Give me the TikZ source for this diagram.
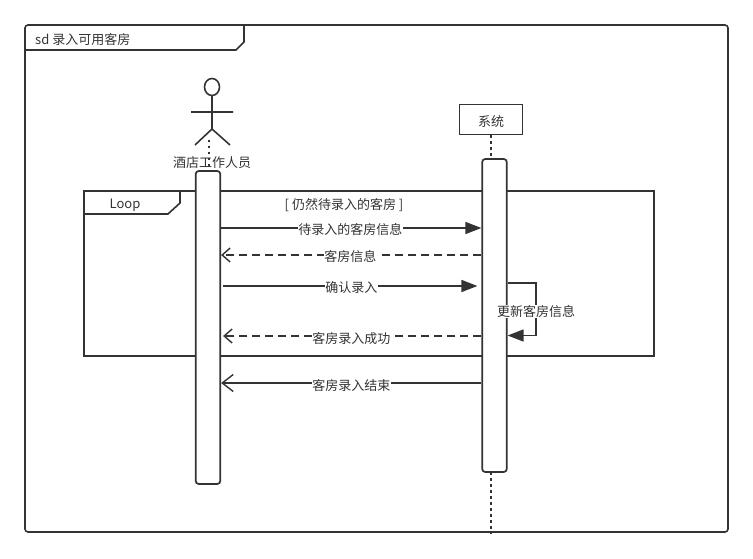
\documentclass[tikz,border=0pt]{standalone}
\usepackage{fontspec}
\setmainfont{Noto Sans CJK SC}
\usetikzlibrary{arrows.meta,calc}
\definecolor{ink}{HTML}{333333}
\tikzset{
  line/.style={draw=ink,line width=1.6pt},
  thin line/.style={draw=ink,line width=1.4pt},
  life/.style={draw=ink,line width=1.5pt,dash pattern=on 2.5pt off 3.5pt},
  activation/.style={draw=ink,line width=1.7pt,fill=white,rounded corners=3pt,inner sep=0pt,minimum width=24.5pt},
  label/.style={font=\fontsize{13pt}{15pt}\selectfont,text=ink,inner sep=1pt},
  msg/.style={label,fill=white,inner ysep=0pt,inner xsep=0.5pt},
  sync/.style={thin line,-{Triangle[length=16pt,width=12pt,fill=ink]}},
  reply/.style={thin line,dash pattern=on 8pt off 5pt,-{Straight Barb[length=8pt,width=14pt,line width=1.4pt]}},
  ret/.style={thin line,-{Straight Barb[length=11pt,width=17pt,line width=1.4pt]}}
}
\begin{document}
\begin{tikzpicture}[x=1pt,y=-1pt]
\useasboundingbox (0,0) rectangle (753,559);
% outer frame
\draw[line,rounded corners=3pt] (25,25) rectangle (728,532);
\draw[line] (25,50) -- (236,50) -- (244,42) -- (244,25);
\node[label,anchor=west] (frametitle) at (34,40) {sd 录入可用客房};
% loop fragment
\draw[line] (84,191) rectangle (654,356);
\draw[line] (84,214) -- (168,214) -- (180,203) -- (180,191);
\node[label] (looptitle) at (125,205.5) {Loop};
\node[label] (guard) at (344,205) {[ 仍然待录入的客房 ]};
% actor
\coordinate (actorfoot) at (209,140);
\draw[line] (212,87) ellipse (7.5pt and 8.5pt);
\draw[line] (212,95.5) -- (212,129) (191,112) -- (233,112) (195,145) -- (212,129) -- (230,145);
% system head
\node[label,draw=ink,line width=1.9pt,fill=white,minimum width=63pt,minimum height=30pt,inner sep=0pt,text depth=0pt] (sys) at (491,119.5) {\raisebox{-3pt}{系统}};
% activations
\node[activation,minimum height=313pt] (a1) at (208,327.5) {};
\node[activation,minimum height=313pt] (a2) at (494.5,315.5) {};
\coordinate (sysend) at (491,534);
% lifelines
\draw[life] (actorfoot) -- (209,171);
\draw[life] (sys.south) -- (491,159);
\draw[life] (491,472) -- (sysend);
\node[label] (actorname) at (212,162.5) {酒店工作人员};
% messages
\draw[sync] (a1.east |- 0,228) -- (a2.west |- 0,228) node[msg,midway,xshift=-1pt,yshift=-2pt] (m1) {待录入的客房信息};
\draw[reply] (a2.west |- 0,255) -- (a1.east |- 0,255) node[msg,pos=.5,xshift=-1pt,yshift=-1.5pt] (m2) {客房信息};
\draw[sync,line width=1.6pt,shorten >=4pt,shorten <=2pt] (a1.east |- 0,286) -- (a2.west |- 0,286) node[msg,pos=.5,yshift=-1.5pt] (m3) {确认录入};
\draw[reply,shorten >=2pt] (a2.west |- 0,336) -- (a1.east |- 0,336) node[msg,pos=.5,yshift=-2.5pt] (m4) {客房录入成功};
\draw[sync] (a2.east |- 0,283) -- (536,283) -- (536,335.5) -- (a2.east |- 0,335.5);
\node[msg] (m5) at (536,311.5) {更新客房信息};
\draw[ret] (a2.west |- 0,383) -- (a1.east |- 0,383) node[msg,pos=.5,yshift=-2.5pt] (m6) {客房录入结束};
\end{tikzpicture}
\end{document}
